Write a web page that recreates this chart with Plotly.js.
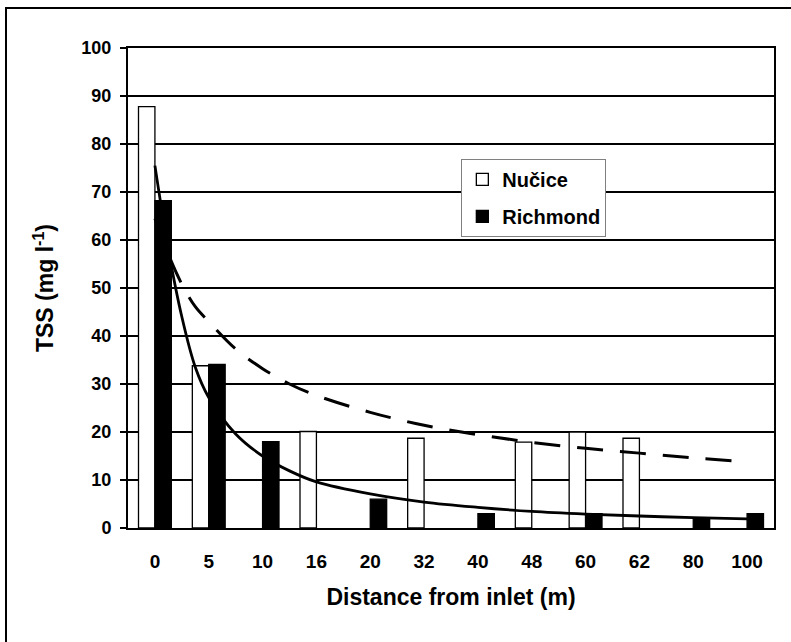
<!DOCTYPE html>
<html><head><meta charset="utf-8">
<script src="https://cdn.plot.ly/plotly-3.0.1.min.js"></script>
<style>html,body{margin:0;padding:0;background:#fff}#chart{width:791px;height:642px}</style>
</head><body><div id="chart"></div><script>
// Categories (distance from inlet, m)
const categories = ['0','5','10','16','20','32','40','48','60','62','80','100'];
// Bar values (TSS, mg/l)
const nucice   = [87.8, 33.8, null, 20.1, null, 18.7, null, 17.9, 20.0, 18.7, null, null];
const richmond = [68.2, 34.1, 18.0, null, 6.0, null, 3.0, null, 3.0, null, 2.1, 3.0];
// Trend lines (position = category index 1..12)
const trendX        = [1, 1.25, 1.5, 1.75, 2, 2.5, 3, 3.5, 4, 5, 6, 7, 8, 9, 10, 11, 12];
const richmondTrend = [75.5, 58, 44, 33.5, 27.2, 19.6, 15.0, 11.9, 9.6, 7.1, 5.4, 4.3, 3.45, 2.9, 2.5, 2.15, 1.9];
const nuciceTrend   = [64.5, 57, 50.8, 46.1, 43, 37.3, 33.2, 30, 27.6, 24.1, 21.4, 19.45, 17.85, 16.6, 15.6, 14.6, 13.8];

const traces = [
  {type:'bar', name:'Nučice', x:categories, y:nucice, legendgroup:'a',
   marker:{color:'#ffffff', line:{color:'#000', width:1.3}}},
  {type:'bar', name:'Richmond', x:categories, y:richmond, legendgroup:'b',
   marker:{color:'#000000', line:{color:'#000', width:1.3}}},
  {type:'scatter', mode:'lines', x:trendX, y:richmondTrend, xaxis:'x2', showlegend:false,
   line:{color:'#000', width:2.8, shape:'spline'}, hoverinfo:'skip'},
  {type:'scatter', mode:'lines', x:trendX, y:nuciceTrend, xaxis:'x2', showlegend:false,
   line:{color:'#000', width:3, dash:'26px,17px', shape:'spline'}, hoverinfo:'skip'}
];

const layout = {
  width:791, height:642,
  margin:{l:128, r:17, t:48, b:114},
  paper_bgcolor:'#fff', plot_bgcolor:'#fff',
  font:{family:'"Liberation Sans", Arial, sans-serif', color:'#000', size:18, weight:'bold'},
  barmode:'group', bargap:0.39, bargroupgap:0,
  showlegend:true,
  legend:{x:0.516, xanchor:'left', y:0.769, yanchor:'top', bgcolor:'#fff',
          bordercolor:'#808080', borderwidth:1, font:{size:20, weight:'bold'}, tracegroupgap:8},
  xaxis:{type:'category', showline:true, linecolor:'#000', linewidth:2, mirror:true,
         showgrid:false, zeroline:false, ticks:'', tickfont:{size:19, weight:'bold'},
         ticklabelstandoff:15,
         title:{text:'Distance from inlet (m)', font:{size:23, weight:'bold'}, standoff:18}},
  xaxis2:{overlaying:'x', range:[0.5,12.5], visible:false},
  yaxis:{range:[0,100], tick0:0, dtick:10, showline:true, linecolor:'#000', linewidth:2, mirror:true,
         showgrid:true, gridcolor:'#000', gridwidth:1.2, zeroline:false,
         ticks:'outside', ticklen:6, tickwidth:1.2, tickcolor:'#000',
         tickfont:{size:18, weight:'bold'}, ticklabelstandoff:5,
         title:{text:'TSS (mg l<sup>-1</sup>)', font:{size:23, weight:'bold'}, standoff:21}},
  shapes:[{type:'rect', xref:'paper', yref:'paper',
           x0:(6-128)/646, x1:(830-128)/646, y0:(528-680)/480, y1:(528-8)/480,
           line:{color:'#000', width:2}, fillcolor:'rgba(0,0,0,0)'}]
};
Plotly.newPlot('chart', traces, layout, {staticPlot:true});
</script></body></html>
